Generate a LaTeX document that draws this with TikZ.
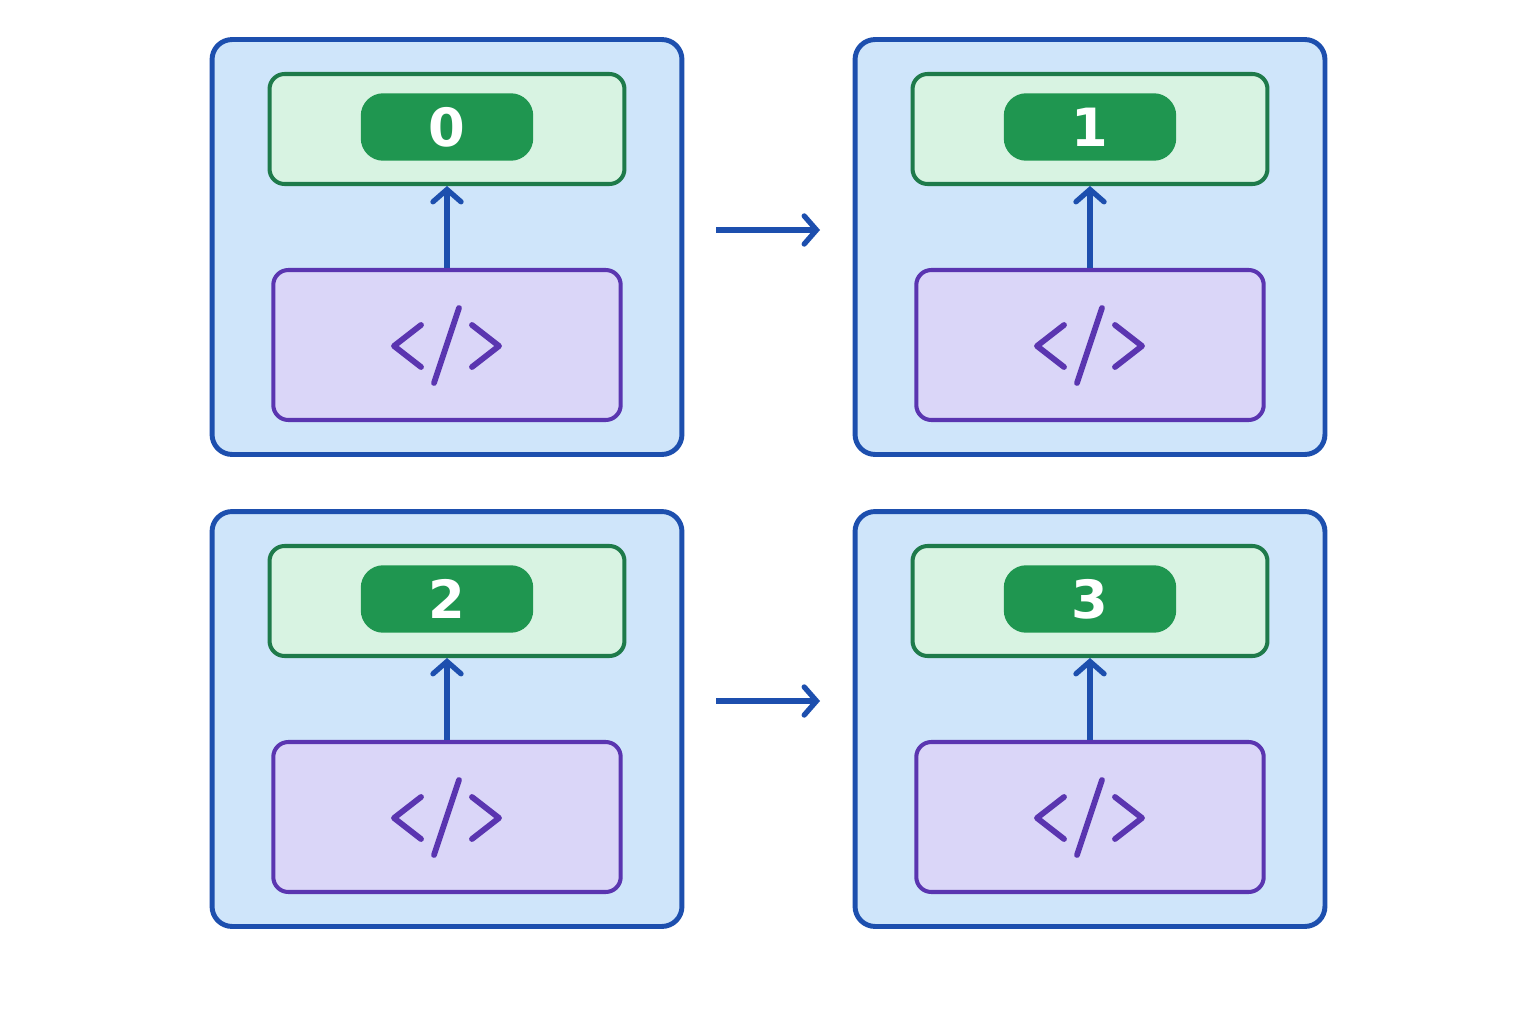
\documentclass[tikz,border=0pt]{standalone}
\usepackage{fontspec}
\setmainfont{DejaVu Sans}
\usetikzlibrary{arrows.meta}
\definecolor{ofill}{HTML}{CFE5FA}\definecolor{odraw}{HTML}{1D4FAE}
\definecolor{gfill}{HTML}{D8F3E2}\definecolor{gdraw}{HTML}{1E7A4A}
\definecolor{pill}{HTML}{1F9650}
\definecolor{pfill}{HTML}{DAD6F8}\definecolor{pdraw}{HTML}{5A35B0}
\tikzset{
 outer/.style={draw=odraw,fill=ofill,line width=2.8pt,rounded corners=0.4cm,minimum width=9.4cm,minimum height=8.3cm},
 gbox/.style={draw=gdraw,fill=gfill,line width=2.3pt,rounded corners=0.3cm,minimum width=7.1cm,minimum height=2.2cm},
 pillst/.style={fill=pill,rounded corners=0.45cm,minimum width=3.45cm,minimum height=1.35cm,text=white,font=\bfseries\fontsize{30}{30}\selectfont},
 pbox/.style={draw=pdraw,fill=pfill,line width=2.3pt,rounded corners=0.3cm,minimum width=6.95cm,minimum height=3cm},
 code/.style={draw=pdraw,line width=3.3pt,line cap=round,line join=round},
 up/.style={draw=odraw,line width=3pt,-{Straight Barb[length=7pt,width=16pt,line cap=round]}},
 right/.style={draw=odraw,line width=3pt,-{Straight Barb[length=7pt,width=16pt,line cap=round]}}
}
\newcommand{\mypanel}[4]{%
 \begin{scope}[shift={(#2,#3)}]
 \node[outer] (o#1) at (447,247) {};
 \node[gbox] (g#1) at (447,129) {};
 \node[pillst] (n#1) at (447,127) {#4};
 \node[pbox] (p#1) at (447,345) {};
 \draw[code] (421,325)--(394,346)--(421,367);
 \draw[code] (459,308)--(434,383);
 \draw[code] (472,325)--(499,346)--(472,367);
 \draw[up] (p#1.north) -- (g#1.south);
 \end{scope}}
\begin{document}
\begin{tikzpicture}[x=0.02cm,y=-0.02cm]
\path[use as bounding box,fill=white] (0,0) rectangle (1536,1024);
\mypanel{a}{0}{0}{0}
\mypanel{b}{643}{0}{1}
\mypanel{c}{0}{472}{2}
\mypanel{d}{643}{472}{3}
\coordinate (r1s) at (716,230);\coordinate (r1e) at (820,230);
\coordinate (r2s) at (716,701);\coordinate (r2e) at (820,701);
\draw[right] (r1s)--(r1e);
\draw[right] (r2s)--(r2e);
\end{tikzpicture}
\end{document}
